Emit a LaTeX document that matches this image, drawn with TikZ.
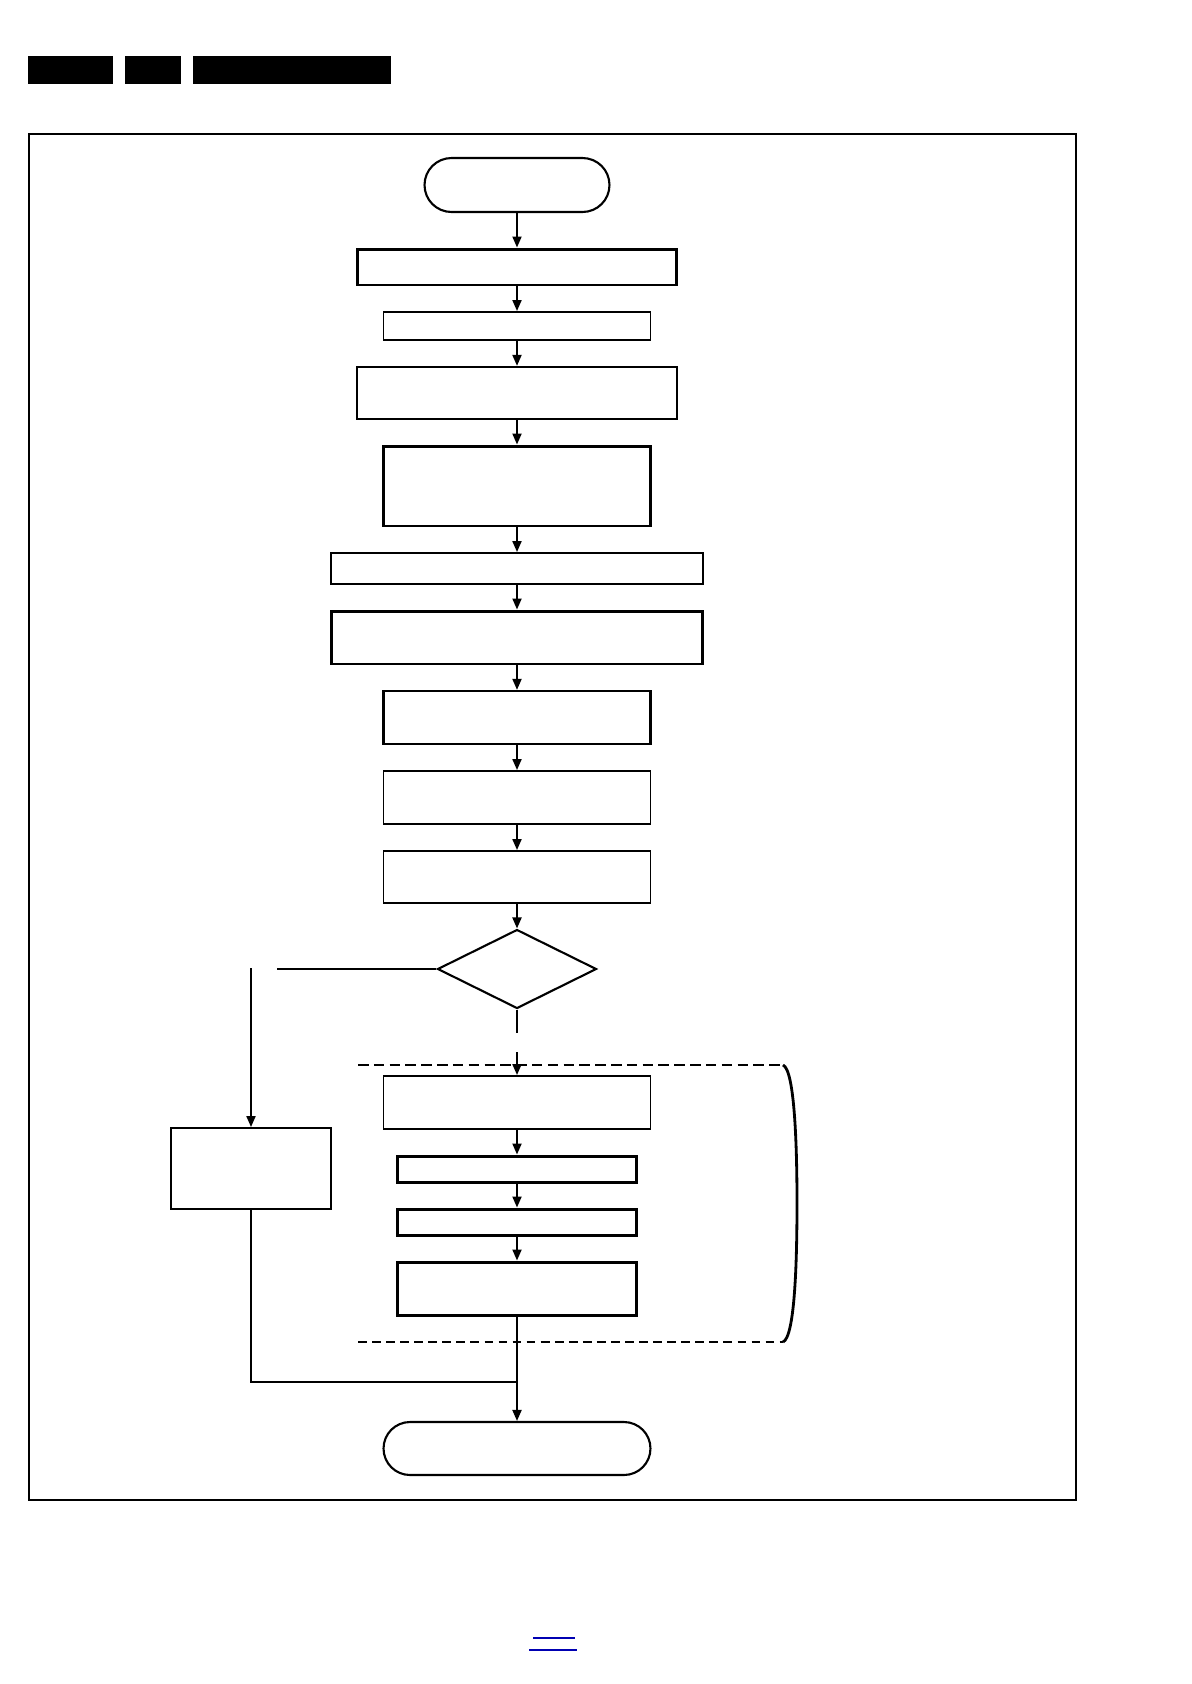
\documentclass[tikz,border=0pt]{standalone}
\usepackage{tikz}
\usetikzlibrary{arrows.meta, shapes.geometric, positioning}

\tikzset{
  proc/.style={draw, rectangle, line width=1.1pt, inner sep=0pt, minimum width=5.34cm, minimum height=1.06cm},
  procb/.style={proc, line width=1.7pt},
  term/.style={draw, rectangle, line width=1.2pt, inner sep=0pt, rounded corners=0.53cm, minimum width=5.34cm, minimum height=1.06cm},
  decide/.style={draw, diamond, line width=1.2pt, inner sep=0pt, minimum width=3.18cm, minimum height=1.58cm},
  flow/.style={line width=1.1pt, -{Triangle[length=0.22cm, width=0.18cm]}},
  plain/.style={line width=1.1pt}
}

\begin{document}
\begin{tikzpicture}[x=0.02cm, y=-0.02cm]
  \useasboundingbox (0,0) rectangle (1191,1684);

  % header bars and frame
  \fill (28,56) rectangle (113,84);
  \fill (125,56) rectangle (181,84);
  \fill (193,56) rectangle (391,84);
  \draw[line width=1pt] (29,134) rectangle (1076,1500);

  % main column
  \draw (517,185) node[term, minimum width=3.7cm, minimum height=1.08cm, rounded corners=0.54cm] (S) {};
  \draw (517,267) node[procb, minimum width=6.4cm, minimum height=0.72cm] (B1) {};
  \draw (517,326) node[proc, minimum height=0.56cm] (B2) {};
  \draw (517,393) node[proc, minimum width=6.4cm, minimum height=1.04cm, line width=1.3pt] (B3) {};
  \draw (517,486) node[procb, minimum height=1.6cm] (B4) {};
  \draw (517,568.5) node[proc, minimum width=7.44cm, minimum height=0.62cm] (B5) {};
  \draw (517,637.5) node[procb, minimum width=7.44cm] (B6) {};
  \draw (517,717.5) node[proc, line width=1.3pt] (B7) {};
  \draw (517,797.5) node[proc] (B8) {};
  \draw (517,877) node[proc, minimum height=1.04cm] (B9) {};
  \draw (517,969) node[decide] (D) {};

  \foreach \a/\b in {S/B1, B1/B2, B2/B3, B3/B4, B4/B5, B5/B6, B6/B7, B7/B8, B8/B9, B9/D}
    \draw[flow] (\a) -- (\b);

  % left branch
  \draw (251,1168.5) node[proc, minimum width=3.2cm, minimum height=1.62cm] (L) {};
  \coordinate (Lend) at (277,969);
  \coordinate (Ltop) at (251,968);
  \draw[line width=1.6pt] (D.west) -- (Lend);
  \draw[flow] (Ltop) -- (L);

  % lower block
  \draw (517,1102.5) node[proc] (B10) {};
  \draw (517,1169) node[procb, minimum width=4.8cm, minimum height=0.52cm] (B11) {};
  \draw (517,1222) node[procb, minimum width=4.8cm, minimum height=0.52cm] (B12) {};
  \draw (517,1288.5) node[procb, minimum width=4.8cm] (B13) {};
  \coordinate (Dout) at (517,1033);
  \coordinate (Din) at (517,1052);
  \draw[plain] (D.south) -- (Dout);
  \draw[flow] (Din) -- (B10);
  \foreach \a/\b in {B10/B11, B11/B12, B12/B13}
    \draw[flow] (\a) -- (\b);

  % dashed region and bracket
  \coordinate (TL) at (358,1065);
  \coordinate (TR) at (783,1065);
  \coordinate (BL) at (358,1342);
  \coordinate (BR) at (783,1342);
  \draw[line width=1.6pt, dash pattern=on 6pt off 3pt] (TL) -- (TR);
  \draw[line width=1.1pt, dash pattern=on 5pt off 3pt] (BL) -- (BR);
  \draw[line width=1.6pt] (TR) .. controls (795,1070) and (797,1150) .. (797,1203)
    .. controls (797,1260) and (795,1337) .. (BR);

  % merge and end
  \draw (517,1448.5) node[term] (E) {};
  \coordinate (M) at (517,1382);
  \draw[plain] (B13) -- (M);
  \draw[plain] (L.south) |- (M);
  \draw[flow] (M) -- (E);

  % link underline
  \draw[blue!70!black, line width=0.9pt] (533,1638) -- (575,1638);
  \draw[blue!70!black, line width=0.9pt] (529,1650) -- (577,1650);
\end{tikzpicture}
\end{document}
